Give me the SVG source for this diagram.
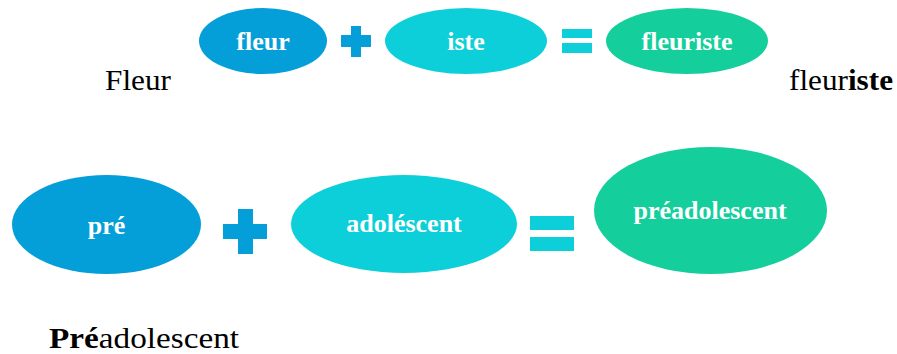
<svg xmlns="http://www.w3.org/2000/svg" width="897" height="354" viewBox="0 0 897 354">
<style>
.blue{fill:#049FD9}
.cyan{fill:#0DCFDA}
.green{fill:#14CF9C}
.lbl{font-family:"Liberation Serif","DejaVu Serif",serif;font-weight:bold;font-size:26px;fill:#FFFFFF;text-anchor:middle}
.plain{font-family:"Liberation Serif","DejaVu Serif",serif;font-size:29px;fill:#000000}
.b{font-weight:bold}
</style>
<rect width="897" height="354" fill="#FFFFFF"/>
<g id="fleur"><ellipse class="blue" cx="263" cy="41" rx="64" ry="33"/><text class="lbl" x="263" y="50">fleur</text></g>
<g id="plus1"><rect class="blue" x="341" y="35" width="30" height="12"/><rect class="blue" x="351" y="26" width="10" height="31"/></g>
<g id="iste"><ellipse class="cyan" cx="466" cy="41" rx="81" ry="33"/><text class="lbl" x="466" y="50">iste</text></g>
<g id="eq1"><rect class="cyan" x="562" y="29" width="30" height="9"/><rect class="cyan" x="562" y="43" width="30" height="10"/></g>
<g id="fleuriste"><ellipse class="green" cx="687" cy="41" rx="81" ry="33"/><text class="lbl" x="687" y="50">fleuriste</text></g>
<g id="pre"><ellipse class="blue" cx="106.5" cy="224.5" rx="94.5" ry="49.5"/><text class="lbl" x="106.5" y="234">pré</text></g>
<g id="plus2"><rect class="blue" x="223" y="224" width="44" height="15"/><rect class="blue" x="238" y="209" width="15" height="45"/></g>
<g id="adolescent"><ellipse class="cyan" cx="404" cy="224" rx="113" ry="49"/><text class="lbl" x="404" y="232">adoléscent</text></g>
<g id="eq2"><rect class="cyan" x="530" y="216" width="44" height="14"/><rect class="cyan" x="530" y="237" width="44" height="14"/></g>
<g id="preadolescent"><ellipse class="green" cx="710.5" cy="210.5" rx="116.5" ry="63.5"/><text class="lbl" x="710" y="219">préadolescent</text></g>
<g id="connectors"></g>
<text class="plain" x="105" y="90" textLength="66" lengthAdjust="spacingAndGlyphs">Fleur</text>
<text class="plain" x="789" y="90" textLength="104" lengthAdjust="spacingAndGlyphs">fleur<tspan class="b">iste</tspan></text>
<text class="plain" x="49" y="348" textLength="190" lengthAdjust="spacingAndGlyphs"><tspan class="b">Pré</tspan>adolescent</text>
</svg>
